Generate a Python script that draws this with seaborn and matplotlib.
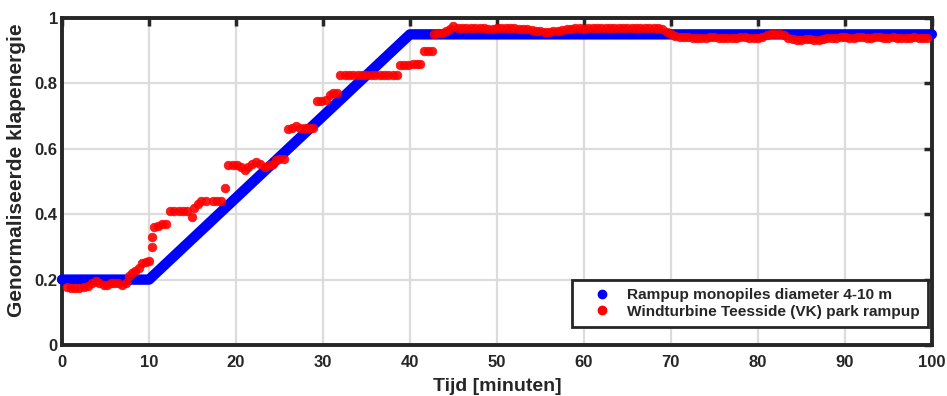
import numpy as np
import pandas as pd
import matplotlib
matplotlib.use("Agg")
import matplotlib.pyplot as plt
import seaborn as sns
from matplotlib.lines import Line2D

# ramp-up schema monopiles (breekpunten)
ramp_t = [0, 10, 40, 100]
ramp_y = [0.20, 0.20, 0.95, 0.95]

red_t = [0.6, 1.0, 1.5, 2.0, 2.5, 3.0, 3.4, 3.9, 4.3, 4.8, 5.2, 5.6, 6.0, 6.4, 6.9, 7.3,
         7.7, 8.0, 8.4, 8.8, 9.2, 9.6, 10.0, 10.3, 10.4, 10.6, 11.0, 11.5, 12.0, 12.4,
         12.9, 13.4, 13.9, 14.4, 14.9, 15.2, 15.6, 16.0, 16.5, 17.3, 17.8, 18.3, 18.7,
         19.1, 19.6, 20.1, 20.6, 21.0, 21.4, 21.8, 22.3, 22.8, 23.3, 23.8, 24.2, 24.6,
         25.0, 25.5, 26.0, 26.4, 26.9, 27.4, 27.9, 28.4, 28.9, 29.3, 29.8, 30.3, 30.8,
         31.2, 31.6, 32.0, 32.5, 33.0, 33.5, 34.0, 34.5, 35.0, 35.5, 36.0, 36.5, 37.0,
         37.5, 38.0, 38.5, 38.9, 39.3, 39.8, 40.3, 40.8, 41.2, 41.6, 42.1, 42.5, 42.8,
         43.2, 43.7, 44.2, 44.6, 45.0, 45.5, 46.0, 46.5, 47.0, 47.5, 48.0, 48.5, 49.0,
         49.5, 50.0, 50.5, 51.0, 51.5, 52.0, 52.5, 53.0, 53.5, 54.0, 54.5, 55.0, 55.5,
         56.0, 56.5, 57.0, 57.5, 58.0, 58.5, 59.0, 59.5, 60.0, 60.5, 61.0, 61.5, 62.0,
         62.5, 63.0, 63.5, 64.0, 64.5, 65.0, 65.5, 66.0, 66.5, 67.0, 67.5, 68.0, 68.5,
         69.0, 69.5, 70.0, 70.5, 71.0, 71.5, 72.0, 72.5, 73.0, 73.5, 74.0, 74.5, 75.0,
         75.5, 76.0, 76.5, 77.0, 77.5, 78.0, 78.5, 79.0, 79.5, 80.0, 80.5, 81.0, 81.5,
         82.0, 82.5, 83.0, 83.5, 84.0, 84.5, 85.0, 85.5, 86.0, 86.5, 87.0, 87.5, 88.0,
         88.5, 89.0, 89.5, 90.0, 90.5, 91.0, 91.5, 92.0, 92.5, 93.0, 93.5, 94.0, 94.5,
         95.0, 95.5, 96.0, 96.5, 97.0, 97.5, 98.0, 98.5, 99.0, 99.4]
red_y = [0.178, 0.175, 0.175, 0.175, 0.178, 0.180, 0.190, 0.195, 0.190, 0.185, 0.185, 0.190, 0.190, 0.190, 0.185, 0.190,
         0.210, 0.220, 0.225, 0.235, 0.250, 0.255, 0.258, 0.300, 0.330, 0.360, 0.365, 0.370, 0.370, 0.410,
         0.410, 0.410, 0.410, 0.410, 0.390, 0.420, 0.430, 0.440, 0.440, 0.440, 0.440, 0.440, 0.480,
         0.550, 0.550, 0.550, 0.545, 0.535, 0.545, 0.555, 0.560, 0.555, 0.545, 0.550, 0.555, 0.565,
         0.570, 0.570, 0.660, 0.665, 0.670, 0.665, 0.665, 0.665, 0.665, 0.745, 0.745, 0.750, 0.765,
         0.770, 0.770, 0.825, 0.825, 0.825, 0.825, 0.825, 0.825, 0.825, 0.825, 0.825, 0.825, 0.825,
         0.825, 0.825, 0.825, 0.855, 0.855, 0.855, 0.860, 0.860, 0.860, 0.900, 0.900, 0.900, 0.950,
         0.955, 0.955, 0.960, 0.965, 0.975, 0.970, 0.970, 0.970, 0.970, 0.968, 0.968, 0.968, 0.966,
         0.966, 0.968, 0.968, 0.970, 0.970, 0.968, 0.966, 0.965, 0.965, 0.962, 0.960, 0.960, 0.958,
         0.958, 0.960, 0.960, 0.962, 0.965, 0.967, 0.968, 0.968, 0.967, 0.968, 0.970, 0.970, 0.970,
         0.970, 0.968, 0.968, 0.970, 0.970, 0.968, 0.968, 0.968, 0.969, 0.970, 0.970, 0.970, 0.970,
         0.966, 0.958, 0.950, 0.945, 0.943, 0.942, 0.942, 0.940, 0.940, 0.940, 0.940, 0.941, 0.941,
         0.940, 0.940, 0.939, 0.940, 0.940, 0.941, 0.941, 0.940, 0.940, 0.940, 0.942, 0.948, 0.950,
         0.950, 0.950, 0.948, 0.938, 0.935, 0.934, 0.934, 0.935, 0.936, 0.934, 0.933, 0.935, 0.938,
         0.940, 0.940, 0.941, 0.941, 0.940, 0.940, 0.941, 0.941, 0.940, 0.940, 0.941, 0.941, 0.940,
         0.940, 0.941, 0.940, 0.940, 0.940, 0.940, 0.941, 0.940, 0.940, 0.940]

xticks = list(range(0, 101, 10))
yticks = [0, 0.2, 0.4, 0.6, 0.8, 1]
ytick_labels = ["0", "0.2", "0.4", "0.6", "0.8", "1"]

label_ramp = "Rampup monopiles diameter 4-10 m"
label_meas = "Windturbine Teesside (VK) park rampup"

sns.set_style("white")
plt.rcParams["font.family"] = ["Liberation Sans", "DejaVu Sans"]
plt.rcParams["font.weight"] = "bold"

ramp = pd.DataFrame({"t": ramp_t, "y": ramp_y})
meas = pd.DataFrame({"t": red_t, "y": red_y})

fig = plt.figure(figsize=(9.47, 3.96), dpi=100)
ax = fig.add_axes([0.0655, 0.1288, 0.9185, 0.8257])

ax.grid(True, color="#dcdcdc", linewidth=1.6, zorder=0)
ax.set_axisbelow(True)

sns.lineplot(data=ramp, x="t", y="y", ax=ax, color="#0000ff", linewidth=7.5,
             solid_capstyle="round", clip_on=False, zorder=3)
sns.scatterplot(data=meas, x="t", y="y", ax=ax, color="#ff0000", s=40,
                edgecolor="#ff0000", linewidth=0.4, alpha=0.9, zorder=4)

ax.set_xlim(0, 100)
ax.set_ylim(0, 1)
ax.set_xticks(xticks)
ax.set_yticks(yticks)
ax.set_yticklabels(ytick_labels)

ax.tick_params(direction="in", length=6, width=2.5, top=True, right=True,
               labelsize=12, colors="#262626")
ax.tick_params(axis="x", pad=7)
ax.tick_params(axis="y", pad=3)
for lab in ax.get_xticklabels() + ax.get_yticklabels():
    lab.set_fontweight("bold")
    lab.set_color("#262626")

for sp in ax.spines.values():
    sp.set_visible(True)
    sp.set_linewidth(2.8)
    sp.set_color("#262626")

ax.set_xlabel("Tijd [minuten]", fontsize=14, fontweight="bold", labelpad=6, color="#262626")
ax.set_ylabel("Genormaliseerde klapenergie", fontsize=15, fontweight="bold",
              color="#262626")
ax.yaxis.set_label_coords(-0.041, 0.535)

handles = [
    Line2D([], [], linestyle="none", marker="o", markersize=6, color="#0000ff"),
    Line2D([], [], linestyle="none", marker="o", markersize=6, color="#ff0000"),
]
leg = ax.legend(handles, [label_ramp, label_meas], loc="lower right",
                bbox_to_anchor=(0.9955, 0.055), frameon=True, fancybox=False,
                edgecolor="#262626", framealpha=1, borderpad=0.55, handlelength=2.8,
                handletextpad=0.2, labelspacing=0.15, borderaxespad=0,
                prop={"weight": "bold", "size": 11.1})
leg.get_frame().set_linewidth(2.0)
leg.set_zorder(10)

fig.savefig("out.png", dpi=100)
